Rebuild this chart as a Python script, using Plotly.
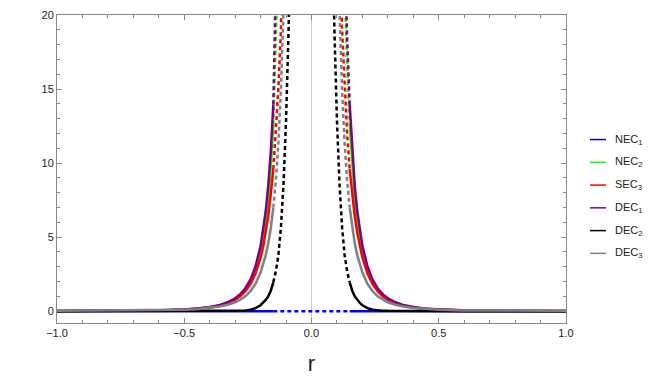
import plotly.graph_objects as go

# radial coordinate (positive side; the chart is mirror-symmetric in r)
r = [0.0, 0.08, 0.09, 0.10, 0.11, 0.12, 0.13, 0.14, 0.15, 0.16, 0.17, 0.18, 0.19,
     0.20, 0.22, 0.24, 0.26, 0.28, 0.30, 0.33, 0.36, 0.40, 0.45, 0.50, 0.60,
     0.70, 0.80, 0.90, 1.00]

nec1 = [0.0, 0.0, 0.0, 0.0, 0.0, 0.0, 0.0, 0.0, 0.0, 0.0, 0.0, 0.0, 0.0,
        0.0, 0.0, 0.0, 0.0, 0.0, 0.0, 0.0, 0.0, 0.0, 0.0, 0.0, 0.0,
        0.0, 0.0, 0.0, 0.0]
nec2 = [None, 155.0, 97.0, 63.6, 43.5, 30.7, 22.3, 16.6, 12.6, 9.7, 7.6, 6.06, 4.89,
        3.98, 2.72, 1.92, 1.40, 1.04, 0.78, 0.54, 0.38, 0.25, 0.155, 0.10, 0.05,
        0.027, 0.016, 0.010, 0.006]
sec3 = [None, 60.0, 45.0, 33.0, 25.0, 19.1, 15.1, 12.0, 9.6, 7.9, 6.4, 5.28, 4.35,
        3.62, 2.54, 1.82, 1.34, 1.0, 0.77, 0.53, 0.37, 0.25, 0.155, 0.104, 0.05,
        0.028, 0.016, 0.010, 0.0065]
dec1 = [None, 172.6, 107.8, 70.7, 48.3, 34.1, 24.8, 18.4, 13.97, 10.79, 8.46, 6.73, 5.43,
        4.42, 3.02, 2.13, 1.55, 1.15, 0.87, 0.60, 0.42, 0.28, 0.17, 0.113, 0.055,
        0.030, 0.017, 0.011, 0.007]
dec2 = [None, 28.0, 19.0, 12.9, 8.6, 5.7, 3.8, 2.7, 1.95, 1.38, 1.0, 0.76, 0.55,
        0.40, 0.20, 0.10, 0.05, 0.03, 0.02, 0.01, 0.006, 0.004, 0.003, 0.002, 0.001,
        0.0, 0.0, 0.0, 0.0]
dec3 = [None, 62.0, 41.0, 28.3, 20.3, 15.0, 11.4, 8.8, 7.0, 5.6, 4.57, 3.77, 3.12,
        2.61, 1.84, 1.34, 1.0, 0.77, 0.60, 0.43, 0.31, 0.21, 0.13, 0.09, 0.05,
        0.035, 0.03, 0.025, 0.02]

names = ["NEC<sub>1</sub>", "NEC<sub>2</sub>", "SEC<sub>3</sub>",
         "DEC<sub>1</sub>", "DEC<sub>2</sub>", "DEC<sub>3</sub>"]
colors = ["#0000ff", "#00ff00", "#ff0000", "#800080", "#000000", "#808080"]
values = [nec1, nec2, sec3, dec1, dec2, dec3]

R0 = 0.15  # inside |r| < R0 the curves are drawn dashed


def mirror(r, y):
    xs = [-ri for ri in reversed(r) if ri > 0] + list(r)
    ys = [yi for ri, yi in zip(reversed(r), reversed(y)) if ri > 0] + list(y)
    return xs, ys


fig = go.Figure()
for name, color, y in zip(names, colors, values):
    xs, ys = mirror(r, y)
    # outer (solid) part, left and right separated by a gap
    xo = [x for x in xs if x <= -R0] + [None] + [x for x in xs if x >= R0]
    yo = [v for x, v in zip(xs, ys) if x <= -R0] + [None] + [v for x, v in zip(xs, ys) if x >= R0]
    # inner (dashed) part
    xi = [x for x in xs if -R0 <= x <= R0]
    yi = [v for x, v in zip(xs, ys) if -R0 <= x <= R0]
    fig.add_trace(go.Scatter(x=xo, y=yo, mode="lines", showlegend=False, hoverinfo="skip",
                             line=dict(color=color, width=2.5)))
    fig.add_trace(go.Scatter(x=xi, y=yi, mode="lines", showlegend=False, hoverinfo="skip",
                             line=dict(color=color, width=2.5, dash="4px,3px")))

W, H = 652, 383
L, R, T, B = 57, 566, 9, 323

# legend drawn by hand (short line samples like the original)
for i, (name, color) in enumerate(zip(names, colors)):
    py = 136 + i * 23.2
    yp = (B - py) / (B - T)
    fig.add_shape(type="line", xref="paper", yref="paper",
                  x0=(590 - L) / (R - L), x1=(606 - L) / (R - L), y0=yp, y1=yp,
                  line=dict(color=color, width=1.5))
    fig.add_annotation(text=name, xref="paper", yref="paper", x=(613 - L) / (R - L), y=yp,
                       xanchor="left", yanchor="middle", showarrow=False,
                       font=dict(family="Liberation Sans", size=11, color="#222"))

axis_common = dict(showline=True, linecolor="#888", linewidth=1, mirror="ticks",
                   ticks="inside", ticklen=5, tickcolor="#888", showgrid=False,
                   ticklabeloverflow="allow",
                   tickfont=dict(family="Liberation Sans", size=11, color="#222"))

fig.update_layout(
    width=W, height=H,
    margin=dict(l=L, r=W - R, t=T, b=H - B),
    plot_bgcolor="white", paper_bgcolor="white",
    showlegend=False,
    xaxis=dict(range=[-1, 1], tickvals=[-1, -0.5, 0, 0.5, 1], tickformat=".1f",
               zeroline=True, zerolinecolor="#cccccc", zerolinewidth=1,
               minor=dict(ticks="inside", dtick=0.1, ticklen=3, tickcolor="#888"),
               title=dict(text="r", font=dict(family="Liberation Sans", size=22, color="#222"),
                          standoff=17),
               **axis_common),
    yaxis=dict(range=[-0.8, 20], tickvals=[0, 5, 10, 15, 20], zeroline=False,
               minor=dict(ticks="inside", dtick=1, ticklen=3, tickcolor="#888"),
               **axis_common),
)

# drop the default page margin so the figure sits at the window origin
fig.write_html("out.html", config={"displayModeBar": False},
               post_script="document.body.style.margin='0';")
